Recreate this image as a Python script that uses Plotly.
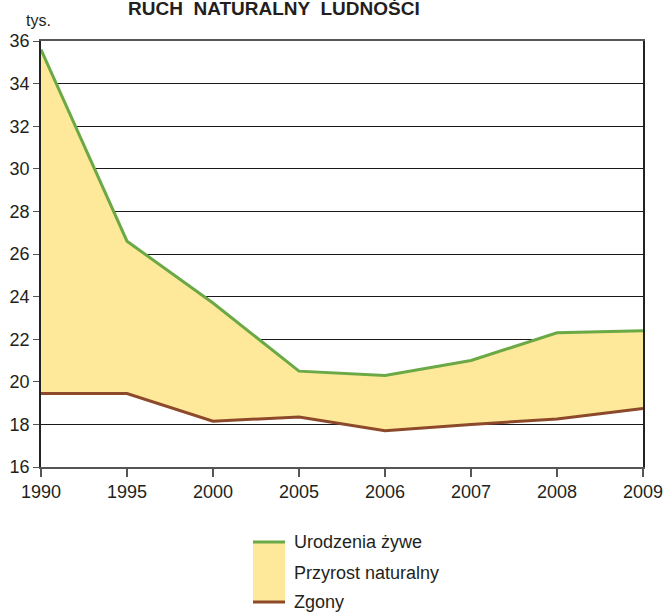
import plotly.graph_objects as go

years = ["1990", "1995", "2000", "2005", "2006", "2007", "2008", "2009"]
births = [35.6, 26.6, 23.7, 20.5, 20.3, 21.0, 22.3, 22.4]
deaths = [19.45, 19.45, 18.15, 18.35, 17.7, 18.0, 18.25, 18.75]
y_ticks = list(range(16, 37, 2))

GREEN = "#6aa945"
BROWN = "#8c4a2a"
FILL = "#fee99a"
FONT = "Liberation Sans, Arial, sans-serif"
TXT = "#231f20"

fig = go.Figure()
fig.add_trace(go.Scatter(x=years, y=deaths, mode="lines",
                         line=dict(color=BROWN, width=3), showlegend=False,
                         hoverinfo="skip"))
fig.add_trace(go.Scatter(x=years, y=births, mode="lines", fill="tonexty",
                         fillcolor=FILL, line=dict(color=GREEN, width=3),
                         showlegend=False, hoverinfo="skip"))

fig.update_layout(
    width=669, height=613,
    margin=dict(l=41, r=26, t=41, b=146),
    paper_bgcolor="white", plot_bgcolor="white",
    font=dict(family=FONT, size=18, color=TXT),
    xaxis=dict(type="category", range=[0, 7], showgrid=False, automargin=False,
               showline=True, linecolor="#555", linewidth=1.5, mirror=True,
               ticks="outside", ticklen=8, tickcolor="#555", tickwidth=1.5,
               tickfont=dict(size=18, color=TXT)),
    yaxis=dict(range=[16, 36], tickvals=y_ticks, showgrid=True, automargin=False,
               gridcolor="#1a1a1a", gridwidth=1,
               showline=True, linecolor="#222", linewidth=1.5, mirror=True,
               ticks="outside", ticklen=6, tickcolor="#555",
               tickfont=dict(size=18, color=TXT), zeroline=False),
)

# helpers: paper coords from pixel coords (plot spans x 41..643, y 41..467)
def py(p):
    return (467 - p) / 426.0
def pxx(p):
    return (p - 41) / 602.0

# title and unit label
fig.add_annotation(text="<b>RUCH  NATURALNY  LUDNOŚCI</b>", xref="paper", yref="paper",
                   x=pxx(274), y=py(21), showarrow=False,
                   font=dict(size=19, color=TXT),
                   xanchor="center", yanchor="bottom")
fig.add_annotation(text="tys.", xref="paper", yref="paper", x=pxx(24), y=py(31),
                   showarrow=False, font=dict(size=16, color=TXT),
                   xanchor="left", yanchor="bottom")

# custom legend below the chart
fig.add_shape(type="rect", xref="paper", yref="paper",
              x0=pxx(253), x1=pxx(285), y0=py(603), y1=py(542),
              fillcolor=FILL, line=dict(width=0))
fig.add_shape(type="line", xref="paper", yref="paper",
              x0=pxx(253), x1=pxx(285), y0=py(542), y1=py(542),
              line=dict(color=GREEN, width=3))
fig.add_shape(type="line", xref="paper", yref="paper",
              x0=pxx(253), x1=pxx(285), y0=py(602), y1=py(602),
              line=dict(color=BROWN, width=3))
for label, ypix in [("Urodzenia żywe", 542), ("Przyrost naturalny", 573), ("Zgony", 602)]:
    fig.add_annotation(text=label, xref="paper", yref="paper", x=pxx(292), y=py(ypix),
                       showarrow=False, xanchor="left", yanchor="middle",
                       font=dict(size=18, color=TXT))

fig.write_html("out.html", config={"displayModeBar": False},
               post_script="document.body.style.margin='0';")
